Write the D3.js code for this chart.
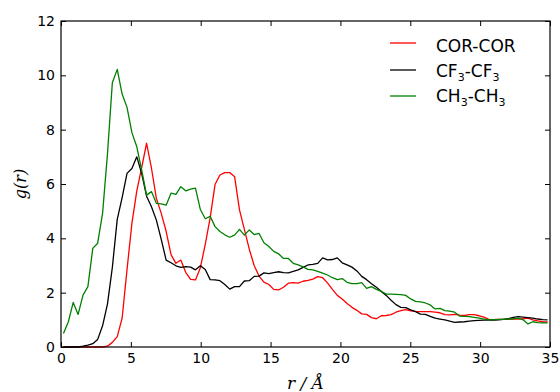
<!DOCTYPE html>
<html>
<head>
  <meta charset="utf-8">
  <title></title>
  <style type="text/css">
    body { margin: 0; background: white; }
    #my_dataviz text { font-family: "DejaVu Sans", sans-serif; }
  </style>
</head>
<body>
  <div id="my_dataviz"></div>
</body>
<script src="https://d3js.org/d3.v7.min.js"></script>
<script type="text/javascript">

      // r bins (Å)
      var r = [0.175,0.525,0.875,1.225,1.575,1.925,2.275,2.625,2.975,3.325,
               3.675,4.025,4.375,4.725,5.075,5.425,5.775,6.125,6.475,6.825,
               7.175,7.525,7.875,8.225,8.575,8.925,9.275,9.625,9.975,10.325,
               10.675,11.025,11.375,11.725,12.075,12.425,12.775,13.125,13.475,13.825,
               14.175,14.525,14.875,15.225,15.575,15.925,16.275,16.625,16.975,17.325,
               17.675,18.025,18.375,18.725,19.075,19.425,19.775,20.125,20.475,20.825,
               21.175,21.525,21.875,22.225,22.575,22.925,23.275,23.625,23.975,24.325,
               24.675,25.025,25.375,25.725,26.075,26.425,26.775,27.125,27.475,27.825,
               28.175,28.525,28.875,29.225,29.575,29.925,30.275,30.625,30.975,31.325,
               31.675,32.025,32.375,32.725,33.075,33.425,33.775,34.125,34.475,34.825]

      var corcor = [0,0,0,0,0,0,0,0,0,0.03,
                    0.17,0.38,1.06,2.85,4.55,5.75,6.60,7.50,6.58,5.47,
                    4.92,4.26,3.40,3.08,3.20,2.75,2.49,2.47,2.92,3.78,
                    4.75,5.98,6.33,6.42,6.42,6.27,5.05,4.33,3.60,3.00,
                    2.61,2.39,2.30,2.12,2.10,2.20,2.35,2.37,2.35,2.42,
                    2.45,2.50,2.59,2.55,2.36,2.12,1.90,1.77,1.60,1.46,
                    1.35,1.22,1.20,1.08,1.04,1.15,1.16,1.19,1.28,1.34,
                    1.38,1.33,1.31,1.30,1.30,1.30,1.28,1.26,1.19,1.18,
                    1.20,1.17,1.16,1.19,1.19,1.15,1.10,1.02,1.01,1.02,
                    1.02,1.02,1.03,1.03,1.04,1.06,1.00,0.96,0.93,0.92]

      var cf3 = [0,0,0,0,0.03,0.07,0.12,0.28,0.78,1.58,
                 2.93,4.70,5.50,6.39,6.57,7.00,6.38,5.55,5.16,4.67,
                 3.96,3.20,3.10,2.99,2.93,2.96,2.94,2.84,2.99,2.85,
                 2.48,2.47,2.44,2.30,2.13,2.22,2.22,2.43,2.44,2.60,
                 2.61,2.73,2.70,2.74,2.77,2.74,2.73,2.78,2.84,2.93,
                 3.02,3.04,3.08,3.28,3.21,3.22,3.28,3.10,3.02,2.94,
                 2.80,2.60,2.48,2.33,2.20,2.04,1.90,1.72,1.56,1.46,
                 1.45,1.37,1.30,1.21,1.20,1.13,1.06,1.03,1.00,0.95,
                 0.91,0.92,0.93,0.95,0.97,0.98,0.99,0.99,0.99,1.00,
                 1.02,1.04,1.09,1.12,1.10,1.08,1.06,1.03,1.01,1.00]

      var ch3 = [0.50,0.93,1.64,1.20,1.91,2.22,3.63,3.82,4.92,7.10,
                 9.73,10.22,9.31,8.82,7.89,7.37,6.51,5.59,5.72,5.29,
                 5.27,5.22,5.66,5.62,5.90,5.75,5.81,5.85,5.06,4.72,
                 4.81,4.43,4.25,4.13,4.04,4.12,4.33,4.12,4.31,4.14,
                 4.18,3.84,3.70,3.52,3.43,3.26,3.26,3.08,3.02,2.95,
                 2.86,2.84,2.78,2.72,2.65,2.55,2.48,2.52,2.38,2.33,
                 2.33,2.37,2.16,2.22,2.12,2.05,1.95,1.95,1.94,1.93,
                 1.90,1.77,1.68,1.66,1.62,1.55,1.40,1.42,1.34,1.32,
                 1.28,1.14,1.13,1.12,1.09,1.06,1.03,1.00,1.01,1.02,
                 1.02,1.03,1.04,1.06,1.00,0.85,0.93,0.90,0.89,0.89]

      var xTicks = [0,5,10,15,20,25,30,35]
      var yTicks = [0,2,4,6,8,10,12]

      var series = [
        {name: "COR-COR", base: "COR-COR", sub: null, values: corcor, color: "#ff0000"},
        {name: "CF3-CF3", base: "CF", sub: "3", values: cf3, color: "#000000"},
        {name: "CH3-CH3", base: "CH", sub: "3", values: ch3, color: "#008000"}
      ]

      var margin = {top: 21, right: 10, bottom: 45, left: 61},
          width = 560 - margin.left - margin.right,
          height = 392 - margin.top - margin.bottom;

      var svg = d3.select("#my_dataviz")
        .append("svg")
          .attr("width", 560)
          .attr("height", 392)
        .append("g")
          .attr("transform", "translate(" + margin.left + "," + margin.top + ")");

      var x = d3.scaleLinear().domain([0, 35]).range([0, width]);
      var y = d3.scaleLinear().domain([0, 12]).range([height, 0]);

      // axes, ticks pointing inward on all four sides
      function styleAxis(g) {
        g.select(".domain").remove();
        g.selectAll(".tick line").attr("stroke", "#000").attr("stroke-width", 1);
        g.selectAll(".tick text").attr("fill", "#000").style("font-size", "14px");
      }

      svg.append("g")
        .attr("transform", "translate(0," + height + ")")
        .call(d3.axisBottom(x).tickValues(xTicks).tickSize(-5).tickPadding(6))
        .call(styleAxis);

      svg.append("g")
        .call(d3.axisTop(x).tickValues(xTicks).tickSize(-5).tickFormat(""))
        .call(styleAxis);

      svg.append("g")
        .call(d3.axisLeft(y).tickValues(yTicks).tickSize(-5).tickPadding(6))
        .call(styleAxis);

      svg.append("g")
        .attr("transform", "translate(" + width + ",0)")
        .call(d3.axisRight(y).tickValues(yTicks).tickSize(-5).tickFormat(""))
        .call(styleAxis);

      // the lines
      var line = d3.line()
        .x(function(d, i) { return x(r[i]); })
        .y(function(d) { return y(d); });

      svg.append("g")
        .selectAll("path")
        .data(series)
        .enter().append("path")
          .attr("d", function(d) { return line(d.values); })
          .attr("fill", "none")
          .attr("stroke", function(d) { return d.color; })
          .attr("stroke-width", 1.3)
          .attr("stroke-linejoin", "round");

      // frame
      svg.append("rect")
        .attr("width", width)
        .attr("height", height)
        .attr("fill", "none")
        .attr("stroke", "#000")
        .attr("stroke-width", 1.2);

      // legend (no frame)
      var legendLineY = [22, 49, 75];
      var legendTextY = [31, 56, 81];
      var legend = svg.append("g");
      series.forEach(function(s, i) {
        legend.append("line")
          .attr("x1", 329).attr("x2", 355)
          .attr("y1", legendLineY[i]).attr("y2", legendLineY[i])
          .attr("stroke", s.color)
          .attr("stroke-width", 1.3);
        var t = legend.append("text")
          .attr("x", 375)
          .attr("y", legendTextY[i])
          .style("font-size", "17px")
          .attr("fill", "#000");
        if (s.sub) {
          t.append("tspan").text(s.base);
          t.append("tspan").attr("dy", 4).style("font-size", "11px").text(s.sub);
          t.append("tspan").attr("dy", -4).text("-" + s.base);
          t.append("tspan").attr("dy", 4).style("font-size", "11px").text(s.sub);
        } else {
          t.text(s.base);
        }
      });

      // axis labels
      svg.append("text")
        .attr("x", width / 2)
        .attr("y", height + 42)
        .attr("text-anchor", "middle")
        .style("font-family", "'DejaVu Serif', serif")
        .style("font-style", "italic")
        .style("font-size", "17px")
        .text("r / Å");

      svg.append("text")
        .attr("transform", "translate(-35," + (height / 2) + ") rotate(-90)")
        .attr("text-anchor", "middle")
        .style("font-family", "'DejaVu Serif', serif")
        .style("font-style", "italic")
        .style("font-size", "16px")
        .text("g(r)");

</script>
</html>
